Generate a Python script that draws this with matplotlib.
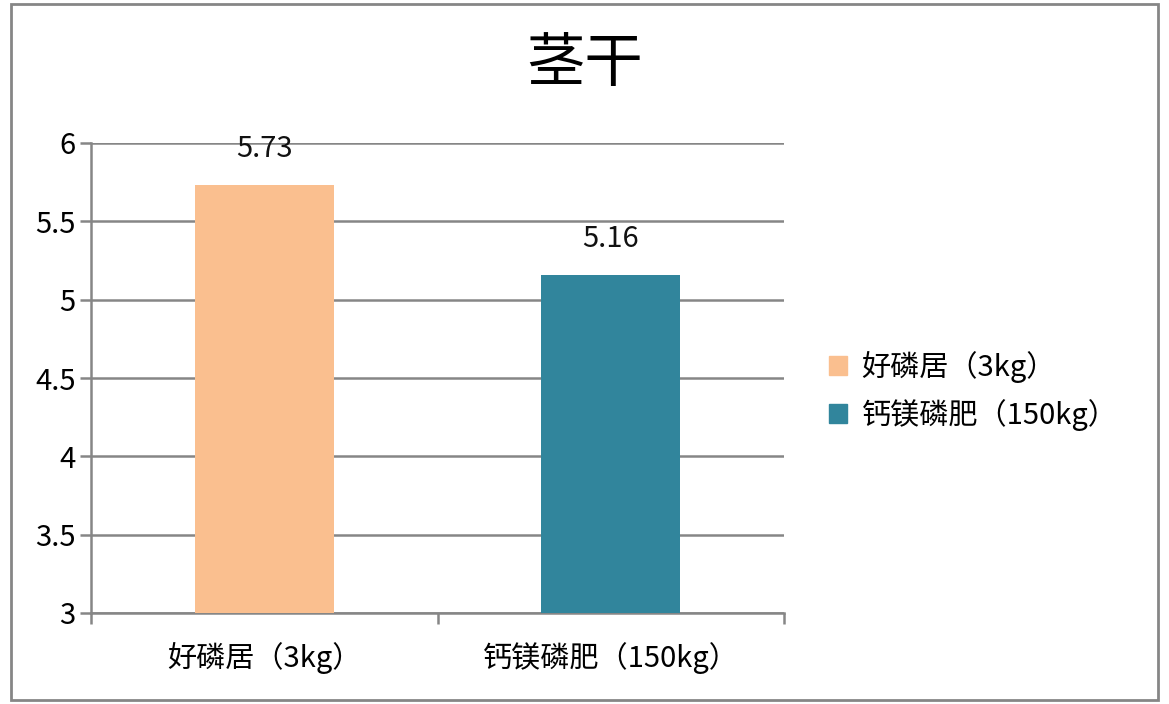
import matplotlib
matplotlib.use('Agg')
import matplotlib.pyplot as plt
from matplotlib.patches import Rectangle

plt.rcParams['font.family'] = ['Noto Sans CJK SC', 'DejaVu Sans']

# chart data
categories = ['好磷居（3kg）', '钙镁磷肥（150kg）']
values = [5.73, 5.16]
colors = ['#FABF8F', '#31859C']
title = '茎干'
yticks = [3, 3.5, 4, 4.5, 5, 5.5, 6]

grey = '#868686'
fs = 21

fig = plt.figure(figsize=(11.69, 7.04), dpi=100)
# outer frame of the chart
fig.patches.append(Rectangle((0.009, 0.006), 0.982, 0.988, transform=fig.transFigure,
                             fill=False, edgecolor=grey, linewidth=2))

ax = fig.add_axes([91 / 1169, 1 - 613 / 704, (784 - 91) / 1169, (613 - 143) / 704])
x = range(len(categories))
bars = ax.bar(x, values, width=0.4, color=colors, zorder=3)
for b, v in zip(bars, values):
    ax.text(b.get_x() + b.get_width() / 2, v + 0.23, f'{v:.2f}',
            ha='center', va='center', fontsize=fs, color='#111111')

ax.set_xlim(-0.5, 1.5)
ax.set_ylim(3, 6)
ax.set_yticks(yticks)
ax.set_yticklabels([f'{t:g}' for t in yticks], fontsize=fs)
ax.set_xticks([-0.5, 0.5, 1.5])
ax.set_xticklabels([])
for i, c in enumerate(categories):
    ax.text(i, -0.096, c, transform=ax.get_xaxis_transform(), ha='center', va='center', fontsize=fs)

ax.grid(axis='y', color=grey, linewidth=1.8, zorder=0)
for s in ['top', 'right']:
    ax.spines[s].set_visible(False)
for s in ['left', 'bottom']:
    ax.spines[s].set_color(grey)
    ax.spines[s].set_linewidth(1.8)
ax.tick_params(axis='both', direction='out', length=8, width=1.8, color=grey)
ax.tick_params(axis='y', pad=3)

fig.text(585 / 1169, 1 - 65 / 704, title, ha='center', va='center', fontsize=42)

handles = [Rectangle((0, 0), 1, 1, color=c) for c in colors]
fig.legend(handles, categories, loc='center left', bbox_to_anchor=(803 / 1169, 1 - 391 / 704),
           frameon=False, fontsize=fs, handlelength=0.6, handleheight=0.6,
           handletextpad=0.5, labelspacing=0.55)

fig.savefig('out.png', dpi=100)
